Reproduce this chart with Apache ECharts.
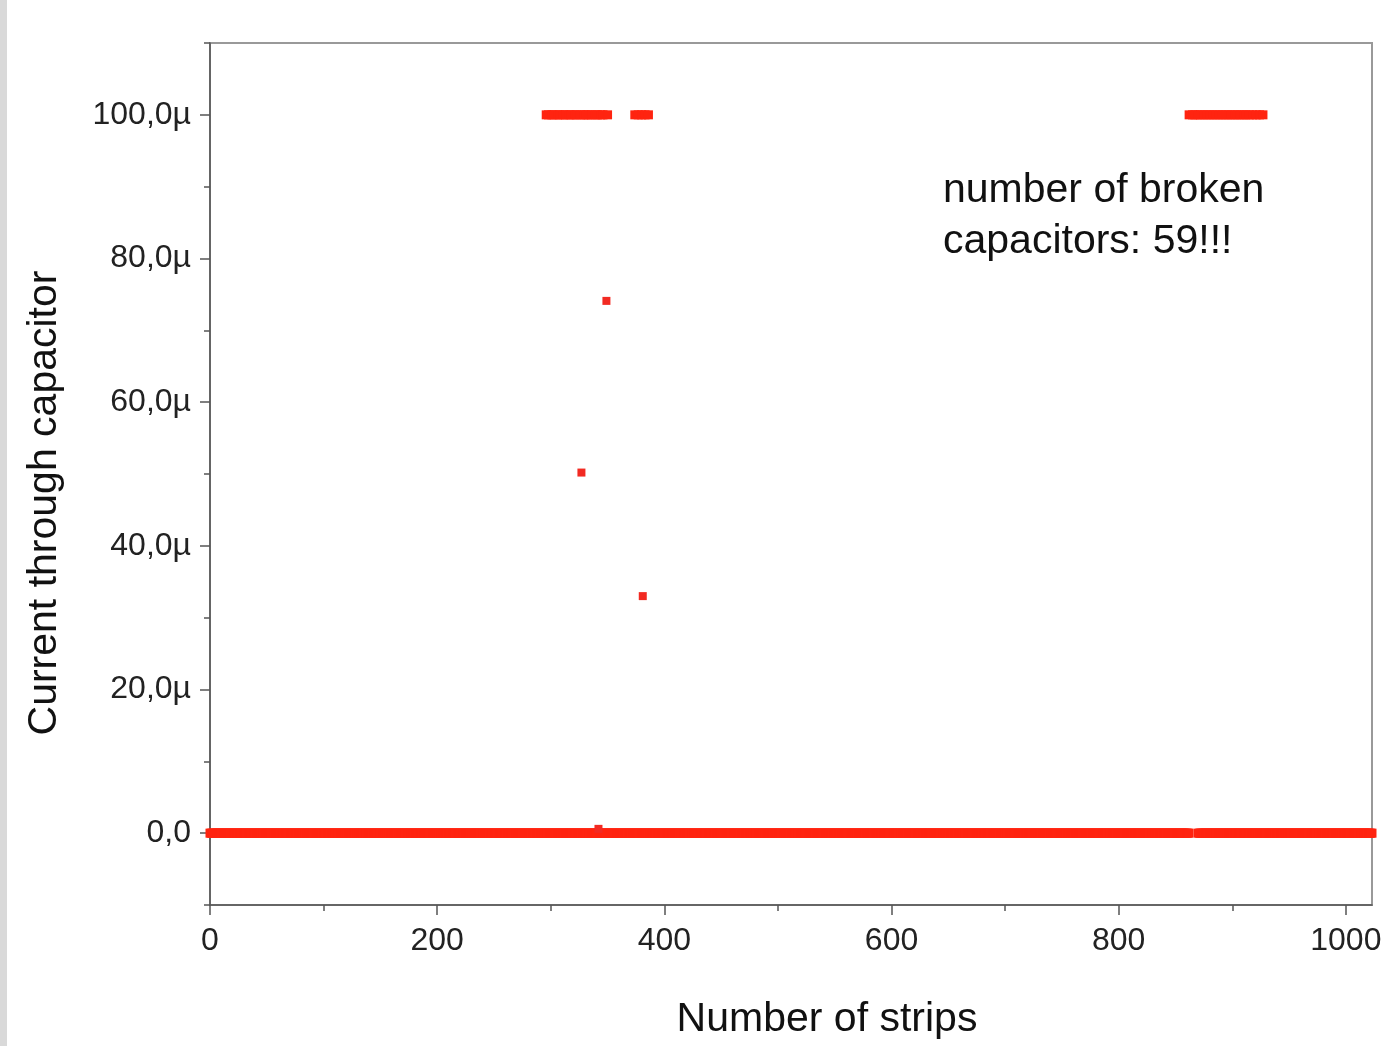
<!DOCTYPE html>
<html>
<head>
<meta charset="utf-8">
<script src="https://cdn.jsdelivr.net/npm/echarts@6/dist/echarts.min.js"></script>
<style>
html,body{margin:0;padding:0;background:#fff;}
#chart{width:1394px;height:1046px;}
</style>
</head>
<body>
<div id="chart"></div>
<script>
// ---- data (current in µA, strip number) ----
var xTickLabels = [0, 200, 400, 600, 800, 1000];
var xMinorTicks = [100, 300, 500, 700, 900];
var yTickLabels = [0, 20, 40, 60, 80, 100];
var yMinorTicks = [-10, 10, 30, 50, 70, 90, 110];

// strips reading ~0 current (inclusive ranges)
var baselineRanges = [[0, 862], [870, 1023]];
var baselineValue = 0;

// broken capacitors saturating at 100 µA
var saturatedStrips = [296, 298, 301, 303, 306, 308, 311, 313, 316, 318, 321, 323, 326, 329, 331, 333, 336, 339, 341, 344, 346, 350,
                       374, 377, 380, 383, 386,
                       862, 865, 867, 870, 872, 875, 878, 880, 883, 886, 888, 891, 894, 896, 899, 902, 904, 907, 910, 912, 915, 918, 921, 924, 927];
var saturatedValue = 100;

// isolated intermediate readings
var midStrips = [327, 342, 349, 381];
var midValues = [50.2, 0.6, 74.1, 33.0];

var xAxisName = 'Number of strips';
var yAxisName = 'Current through capacitor';
var annotation = 'number of broken\ncapacitors: 59!!!';

// ---- build series data ----
var baseData = [];
baselineRanges.forEach(function (r) {
  for (var s = r[0]; s <= r[1]; s++) baseData.push([s, baselineValue]);
});
var satData = saturatedStrips.map(function (s) { return [s, saturatedValue]; });
var midData = midStrips.map(function (s, i) { return [s, midValues[i]]; });

var FONT = '"Liberation Sans", Arial, sans-serif';
var RED = '#ff2410';

function yFmt(v) {
  if (v === 0) return '0,0';
  return v.toFixed(1).replace('.', ',') + 'µ';
}

var chart = echarts.init(document.getElementById('chart'), null, {renderer: 'canvas'});
chart.setOption({
  animation: false,
  backgroundColor: '#ffffff',
  grid: {left: 210, right: 22, top: 43, bottom: 141, containLabel: false, outerBoundsMode: 'none',
         show: true, borderColor: '#999', borderWidth: 2, backgroundColor: 'transparent'},
  xAxis: [
    {
      type: 'value', min: 0, max: 1023, position: 'bottom',
      axisLine: {show: true, onZero: false, lineStyle: {color: '#555', width: 1.5}},
      axisTick: {show: true, inside: false, length: 10, customValues: xTickLabels, lineStyle: {color: '#555', width: 1.5}},
      axisLabel: {show: true, customValues: xTickLabels, margin: 20, fontFamily: FONT, fontSize: 32, color: '#222',
                  formatter: function (v) { return String(v); }},
      splitLine: {show: false}
    },
    {
      type: 'value', min: 0, max: 1023, position: 'bottom',
      axisLine: {show: false, onZero: false},
      axisTick: {show: true, length: 6, customValues: xMinorTicks, lineStyle: {color: '#555', width: 1.5}},
      axisLabel: {show: false},
      splitLine: {show: false}
    }
  ],
  yAxis: [
    {
      type: 'value', min: -10, max: 110, position: 'left',
      axisLine: {show: true, onZero: false, lineStyle: {color: '#555', width: 1.5}},
      axisTick: {show: true, length: 10, customValues: yTickLabels, lineStyle: {color: '#555', width: 1.5}},
      axisLabel: {show: true, customValues: yTickLabels, margin: 19, fontFamily: FONT, fontSize: 32, color: '#222', formatter: yFmt},
      splitLine: {show: false}
    },
    {
      type: 'value', min: -10, max: 110, position: 'left',
      axisLine: {show: false, onZero: false},
      axisTick: {show: true, length: 6, customValues: yMinorTicks, lineStyle: {color: '#555', width: 1.5}},
      axisLabel: {show: false},
      splitLine: {show: false}
    }
  ],
  series: [
    {type: 'scatter', data: baseData, symbol: 'rect', symbolSize: 9, itemStyle: {color: RED, opacity: 1}, silent: true},
    {type: 'scatter', data: satData, symbol: 'rect', symbolSize: 9, itemStyle: {color: RED, opacity: 1}, silent: true},
    {type: 'scatter', data: midData, symbol: 'rect', symbolSize: 8, itemStyle: {color: '#f22a22', opacity: 1}, silent: true}
  ],
  graphic: [
    {type: 'rect', left: 0, top: 0, shape: {width: 7, height: 1046}, style: {fill: '#d9d9d9'}, silent: true},
    {type: 'text', left: 943, top: 165, style: {text: annotation, font: '41px ' + FONT, fill: '#111', lineHeight: 51}, silent: true},
    {type: 'text', x: 827, y: 1020, style: {text: xAxisName, font: '41px ' + FONT, fill: '#111', textAlign: 'center', textVerticalAlign: 'middle'}, silent: true},
    {type: 'text', x: 45, y: 503, rotation: Math.PI / 2, style: {text: yAxisName, font: '41px ' + FONT, fill: '#111', textAlign: 'center', textVerticalAlign: 'middle'}, silent: true}
  ]
});
</script>
</body>
</html>
